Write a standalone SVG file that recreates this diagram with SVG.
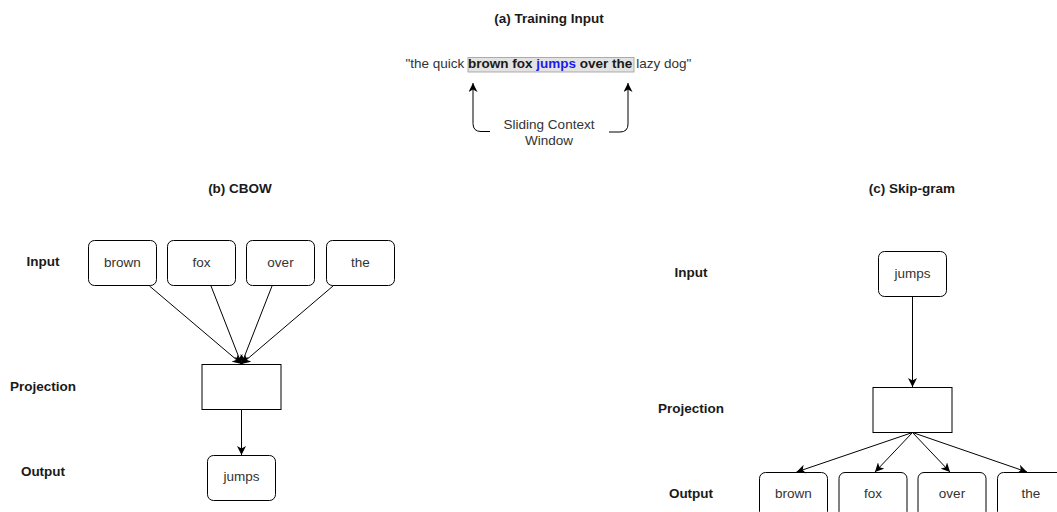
<svg xmlns="http://www.w3.org/2000/svg" width="1057" height="512" viewBox="0 0 1057 512">
  <style>
    text { font-family: "Liberation Sans", Arial, sans-serif; font-size: 13.5px; }
    .title { font-weight: bold; fill: #1a1a1a; text-anchor: middle; }
    .lbl { font-weight: bold; fill: #1a1a1a; text-anchor: middle; }
    .node { fill: #fff; stroke: #000; stroke-width: 1; }
    .ntext { fill: #333; text-anchor: middle; }
    .edge { fill: none; stroke: #000; stroke-width: 1; marker-end: url(#arrow); }
  </style>
  <defs>
    <marker id="arrow" markerUnits="userSpaceOnUse" markerWidth="10" markerHeight="9" refX="9" refY="4.5" orient="auto">
      <path d="M0,0 L9,4.5 L0,9 L2.5,4.5 Z" fill="#000"/>
    </marker>
  </defs>

  <rect width="1057" height="512" fill="#fff"/>

  <!-- (a) Training input -->
  <g id="training-input">
    <text class="title" x="549" y="22.5">(a) Training Input</text>
    <rect x="468" y="57.5" width="166" height="14.5" fill="#e3e3e3" stroke="#999" stroke-width="0.8"/>
    <text x="405.5" y="68" fill="#333">"the quick <tspan font-weight="bold" fill="#1a1a1a">brown fox </tspan><tspan font-weight="bold" fill="#1a1aee">jumps</tspan><tspan font-weight="bold" fill="#1a1a1a"> over the</tspan> lazy dog"</text>
    <text class="ntext" x="549" y="128.5">Sliding Context</text>
    <text class="ntext" x="549" y="145">Window</text>
  </g>

  <!-- (b) CBOW -->
  <g id="cbow">
    <text class="title" x="240" y="192.5">(b) CBOW</text>
    <text class="lbl" x="43" y="266">Input</text>
    <text class="lbl" x="43" y="391">Projection</text>
    <text class="lbl" x="43" y="476">Output</text>
  </g>
  <g id="cbow-brown"><rect class="node" x="88.5" y="240.5" width="68" height="45" rx="6"/><text class="ntext" x="122.5" y="267">brown</text></g>
  <g id="cbow-fox"><rect class="node" x="167.5" y="240.5" width="68" height="45" rx="6"/><text class="ntext" x="201.5" y="267">fox</text></g>
  <g id="cbow-over"><rect class="node" x="246.5" y="240.5" width="68" height="45" rx="6"/><text class="ntext" x="280.5" y="267">over</text></g>
  <g id="cbow-the"><rect class="node" x="326.5" y="240.5" width="68" height="45" rx="6"/><text class="ntext" x="360.5" y="267">the</text></g>
  <g id="cbow-projection"><rect class="node" x="202" y="364.5" width="79" height="45"/></g>
  <g id="cbow-jumps"><rect class="node" x="207.5" y="455.5" width="68" height="45" rx="6"/><text class="ntext" x="241.5" y="481">jumps</text></g>

  <!-- (c) Skip-gram -->
  <g id="skipgram">
    <text class="title" x="912" y="192.5">(c) Skip-gram</text>
    <text class="lbl" x="691" y="277">Input</text>
    <text class="lbl" x="691" y="413">Projection</text>
    <text class="lbl" x="691" y="498">Output</text>
  </g>
  <g id="sg-jumps"><rect class="node" x="878.5" y="251.5" width="68" height="45" rx="6"/><text class="ntext" x="912.5" y="278">jumps</text></g>
  <g id="sg-projection"><rect class="node" x="873" y="387.5" width="79" height="45"/></g>
  <g id="sg-brown"><rect class="node" x="759.5" y="472.5" width="68" height="45" rx="6"/><text class="ntext" x="793.5" y="498">brown</text></g>
  <g id="sg-fox"><rect class="node" x="839" y="472.5" width="68" height="45" rx="6"/><text class="ntext" x="873" y="498">fox</text></g>
  <g id="sg-over"><rect class="node" x="918" y="472.5" width="68" height="45" rx="6"/><text class="ntext" x="952" y="498">over</text></g>
  <g id="sg-the"><rect class="node" x="997.5" y="472.5" width="68" height="45" rx="6"/><text class="ntext" x="1031" y="498">the</text></g>

  <!-- connectors -->
  <g id="connectors">
    <path class="edge" d="M490,131.5 L481,131.5 Q473,131.5 473,123.5 L473,83"/>
    <path class="edge" d="M609,132 L620,132 Q628,132 628,124 L628,83"/>
    <path class="edge" d="M149.5,286 L241.5,364"/>
    <path class="edge" d="M211,286 L241.5,364"/>
    <path class="edge" d="M272,286 L241.5,364"/>
    <path class="edge" d="M333,286 L241.5,364"/>
    <path class="edge" d="M241.5,409.5 L241.5,455"/>
    <path class="edge" d="M912.5,296.5 L912.5,387"/>
    <path class="edge" d="M912.5,432.5 L796.5,472"/>
    <path class="edge" d="M912.5,432.5 L875,472"/>
    <path class="edge" d="M912.5,432.5 L950,472"/>
    <path class="edge" d="M912.5,432.5 L1027,472"/>
  </g>
</svg>
